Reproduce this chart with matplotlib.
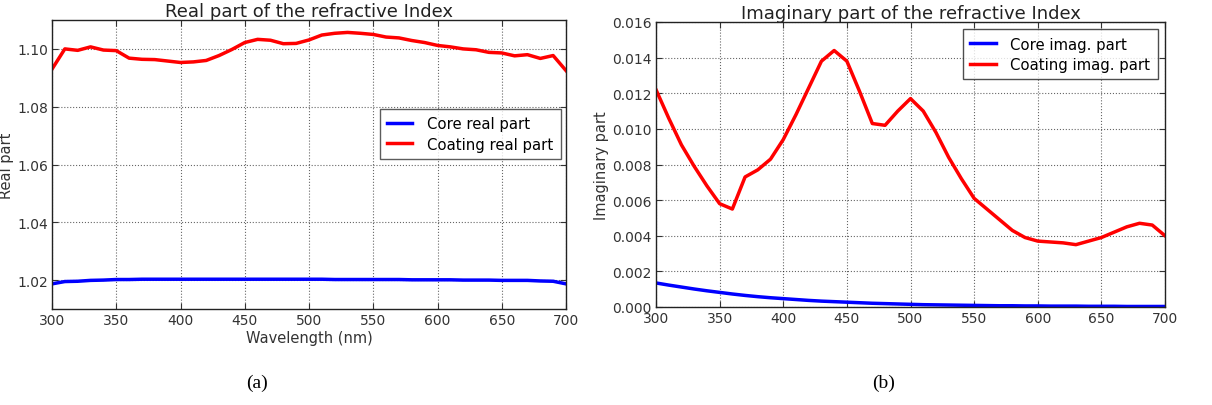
import matplotlib
matplotlib.use("Agg")
import matplotlib.pyplot as plt

# wavelength grid (nm)
wavelength = list(range(300, 710, 10))

coating_real = [1.0930, 1.1000, 1.0995, 1.1007, 1.0996, 1.0994, 1.0968, 1.0964, 1.0963, 1.0958,
                1.0953, 1.0955, 1.0960, 1.0977, 1.0998, 1.1022, 1.1033, 1.1030, 1.1018, 1.1019,
                1.1031, 1.1048, 1.1054, 1.1057, 1.1054, 1.1050, 1.1041, 1.1038, 1.1029, 1.1022,
                1.1012, 1.1007, 1.1000, 1.0997, 1.0988, 1.0986, 1.0976, 1.0980, 1.0967, 1.0977,
                1.0925]
core_real = [1.0187, 1.0195, 1.0196, 1.0199, 1.0200, 1.0202, 1.0202, 1.0203, 1.0203, 1.0203,
             1.0203, 1.0203, 1.0203, 1.0203, 1.0203, 1.0203, 1.0203, 1.0203, 1.0203, 1.0203,
             1.0203, 1.0203, 1.0202, 1.0202, 1.0202, 1.0202, 1.0202, 1.0202, 1.0201, 1.0201,
             1.0201, 1.0201, 1.0200, 1.0200, 1.0200, 1.0199, 1.0199, 1.0199, 1.0197, 1.0196,
             1.0187]

coating_imag = [0.0122, 0.0106, 0.0091, 0.0079, 0.0068, 0.0058, 0.0055, 0.0073, 0.0077, 0.0083,
                0.0094, 0.0108, 0.0123, 0.0138, 0.0144, 0.0138, 0.0121, 0.0103, 0.0102, 0.0110,
                0.0117, 0.0110, 0.0098, 0.0084, 0.0072, 0.0061, 0.0055, 0.0049, 0.0043, 0.0039,
                0.0037, 0.00365, 0.0036, 0.0035, 0.0037, 0.0039, 0.0042, 0.0045, 0.0047, 0.0046,
                0.0040]
core_imag = [0.00135, 0.00123, 0.00112, 0.00101, 0.00091, 0.00082, 0.00073, 0.00065, 0.00058, 0.00052,
             0.00047, 0.00042, 0.00037, 0.00033, 0.00030, 0.00027, 0.00024, 0.00021, 0.00019, 0.00017,
             0.00015, 0.00013, 0.00012, 0.00011, 0.00010, 0.00009, 0.00008, 0.00007, 0.00007, 0.00006,
             0.00006, 0.00005, 0.00005, 0.00005, 0.00004, 0.00004, 0.00004, 0.00003, 0.00003, 0.00003,
             0.00003]

x_ticks = [300, 350, 400, 450, 500, 550, 600, 650, 700]

plt.rcParams['font.family'] = ['DejaVu Sans']
plt.rcParams['xtick.direction'] = 'in'
plt.rcParams['ytick.direction'] = 'in'
plt.rcParams['xtick.top'] = True
plt.rcParams['ytick.right'] = True

fig = plt.figure(figsize=(12.12, 4.06), dpi=100)
ax1 = fig.add_axes([52 / 1212, 96 / 406, 514 / 1212, 289 / 406])
ax2 = fig.add_axes([656 / 1212, 98 / 406, 509 / 1212, 285 / 406])


def style(ax):
    ax.grid(True, color='black', linestyle=':', linewidth=0.8, alpha=0.6)
    ax.set_xlim(300, 700)
    ax.set_xticks(x_ticks)
    ax.tick_params(labelsize=10, length=4, width=0.8, colors='#333333', pad=3)
    for s in ax.spines.values():
        s.set_linewidth(1.0)
        s.set_color('#222222')


leg_kw = dict(fontsize=10.7, fancybox=False, handlelength=1.7, handletextpad=1.0,
              borderpad=0.5, labelspacing=0.35, borderaxespad=0, loc='upper right')

# (a) real part
ax1.plot(wavelength, core_real, color='blue', lw=2.5, label='Core real part')
ax1.plot(wavelength, coating_real, color='red', lw=2.5, label='Coating real part')
style(ax1)
ax1.set_ylim(1.01, 1.11)
ax1.set_yticks([1.02, 1.04, 1.06, 1.08, 1.10])
ax1.set_yticklabels(['1.02', '1.04', '1.06', '1.08', '1.10'])
ax1.set_title('Real part of the refractive Index', fontsize=13, color='#222222', pad=3)
ax1.set_xlabel('Wavelength (nm)', fontsize=10.5, color='#333333', labelpad=2)
ax1.set_ylabel('Real part', fontsize=10.5, color='#333333', labelpad=2)
leg1 = ax1.legend(bbox_to_anchor=(0.990, 0.692), edgecolor='#333333', **leg_kw)
leg1.get_frame().set_linewidth(1.0)

# (b) imaginary part
ax2.plot(wavelength, core_imag, color='blue', lw=2.5, label='Core imag. part')
ax2.plot(wavelength, coating_imag, color='red', lw=2.5, label='Coating imag. part')
style(ax2)
ax2.set_ylim(0, 0.016)
ax2.set_yticks([0, 0.002, 0.004, 0.006, 0.008, 0.010, 0.012, 0.014, 0.016])
ax2.set_yticklabels(['0.000', '0.002', '0.004', '0.006', '0.008', '0.010', '0.012', '0.014', '0.016'])
ax2.set_title('Imaginary part of the refractive Index', fontsize=13, color='#222222', pad=3)
ax2.set_ylabel('Imaginary part', fontsize=10.5, color='#333333', labelpad=2)
leg2 = ax2.legend(bbox_to_anchor=(0.986, 0.975), edgecolor='#222222', **leg_kw)
leg2.get_frame().set_linewidth(1.0)

fig.text(0.212, 0.045, '(a)', family='Liberation Serif', fontsize=14, ha='center')
fig.text(0.729, 0.045, '(b)', family='Liberation Serif', fontsize=14, ha='center')

fig.savefig('out.png', dpi=100, facecolor='white')
